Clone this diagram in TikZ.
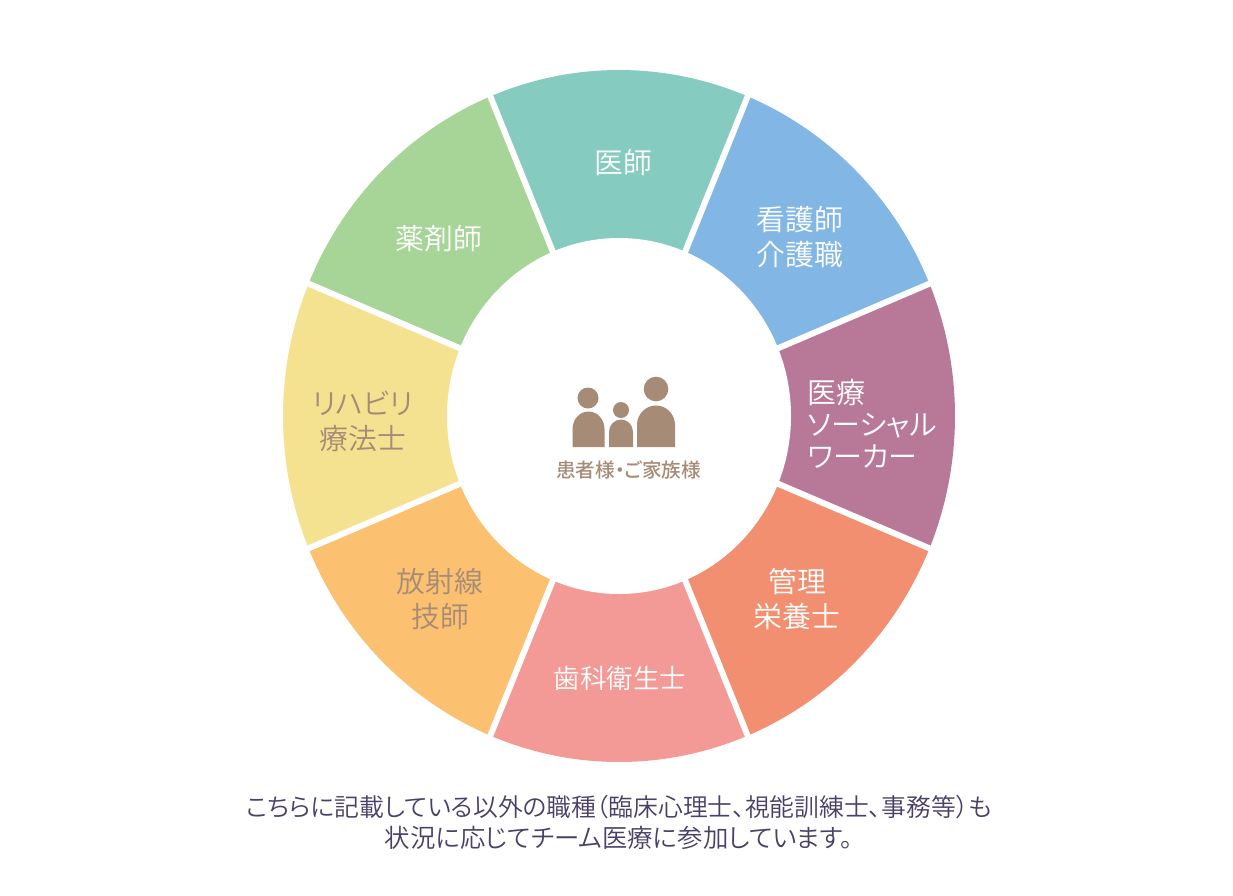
\documentclass[tikz,border=0pt]{standalone}
\usepackage{fontspec}
\setmainfont{Noto Sans CJK JP Medium}[RawFeature=+palt]
\newfontfamily\jplight{Noto Sans CJK JP DemiLight}[RawFeature=+palt]
\definecolor{cteal}{HTML}{86CBBF}
\definecolor{cblue}{HTML}{82B7E5}
\definecolor{cmauve}{HTML}{B87898}
\definecolor{ccoral}{HTML}{F28F70}
\definecolor{cpink}{HTML}{F49A96}
\definecolor{corange}{HTML}{FBC070}
\definecolor{cyellow}{HTML}{F5E290}
\definecolor{cgreen}{HTML}{A7D497}
\definecolor{cbrown}{HTML}{A68B76}
\definecolor{cnote}{HTML}{4A4066}
\tikzset{
  x=1pt,y=-1pt,
  seg/.style={text=white,font=\jplight\fontsize{28.8}{35}\selectfont,align=center,inner sep=0pt},
  segdark/.style={seg,text=cbrown},
  gap/.style={draw=white,line width=6pt},
  note/.style={text=cnote,font=\jplight\fontsize{24.8}{31}\selectfont,align=center,inner sep=0pt},
  fam/.style={fill=cbrown,draw=none},
}
\begin{document}
\begin{tikzpicture}
\useasboundingbox (0,0) rectangle (1233,895);
\fill[white] (0,0) rectangle (1233,895);
\foreach \c/\a in {cteal/112.5,cblue/67.5,cmauve/22.5,ccoral/-22.5,cpink/-67.5,corange/-112.5,cyellow/-157.5,cgreen/157.5}{
  \fill[\c] (619,416) -- ++({cos(\a)*336},{-sin(\a)*346})
    arc[start angle=\a,delta angle=-45,x radius=336pt,y radius=346pt] -- cycle;
}
\foreach \a in {22.5,67.5,112.5,157.5,202.5,247.5,292.5,337.5}{
  \draw[gap] (619,416) -- ++({cos(\a)*345},{-sin(\a)*355});
}
\fill[white] (619,416) ellipse[x radius=172pt,y radius=178pt];
\node[seg] (doctor) at (623,163) {医師};
\node[seg] (nurse) at (800,237) {看護師\\介護職};
\node[seg,align=left,font=\jplight\fontsize{29}{32}\selectfont] (social) at (872.5,424) {医療\\ソーシャル\\ワーカー};
\node[seg] (diet) at (797,599) {管理\\栄養士};
\node[seg,font=\jplight\fontsize{26.5}{35}\selectfont] (dental) at (620,678) {歯科衛生士};
\node[segdark] (xray) at (440,599) {放射線\\技師};
\node[segdark] (rehab) at (363,421) {リハビリ\\療法士};
\node[seg] (pharm) at (439,239) {薬剤師};
% family icon
\fill[fam] (588,398) circle[radius=10.5pt];
\fill[fam] (621,410) circle[radius=8pt];
\fill[fam] (656,389) circle[radius=12.3pt];
\fill[fam] (572.5,447) -- (572.5,429) arc[start angle=180,delta angle=-180,x radius=16pt,y radius=17.5pt] -- (604.5,447) -- cycle;
\fill[fam] (609,447) -- (609,432) arc[start angle=180,delta angle=-180,x radius=12pt,y radius=12.5pt] -- (633,447) -- cycle;
\fill[fam] (637,447) -- (637,425) arc[start angle=180,delta angle=-180,x radius=19pt,y radius=19.5pt] -- (675,447) -- cycle;
\node[text=cbrown,font=\fontsize{19.6}{22}\selectfont,inner sep=0pt] (patient) at (628.5,470) {患者様・ご家族様};
\node[note] (note) at (619,822) {こちらに記載している以外の職種（臨床心理士、視能訓練士、事務等）も\\{\fontsize{25.4}{31}\selectfont 状況に応じてチーム医療に参加しています。}};
\end{tikzpicture}
\end{document}
